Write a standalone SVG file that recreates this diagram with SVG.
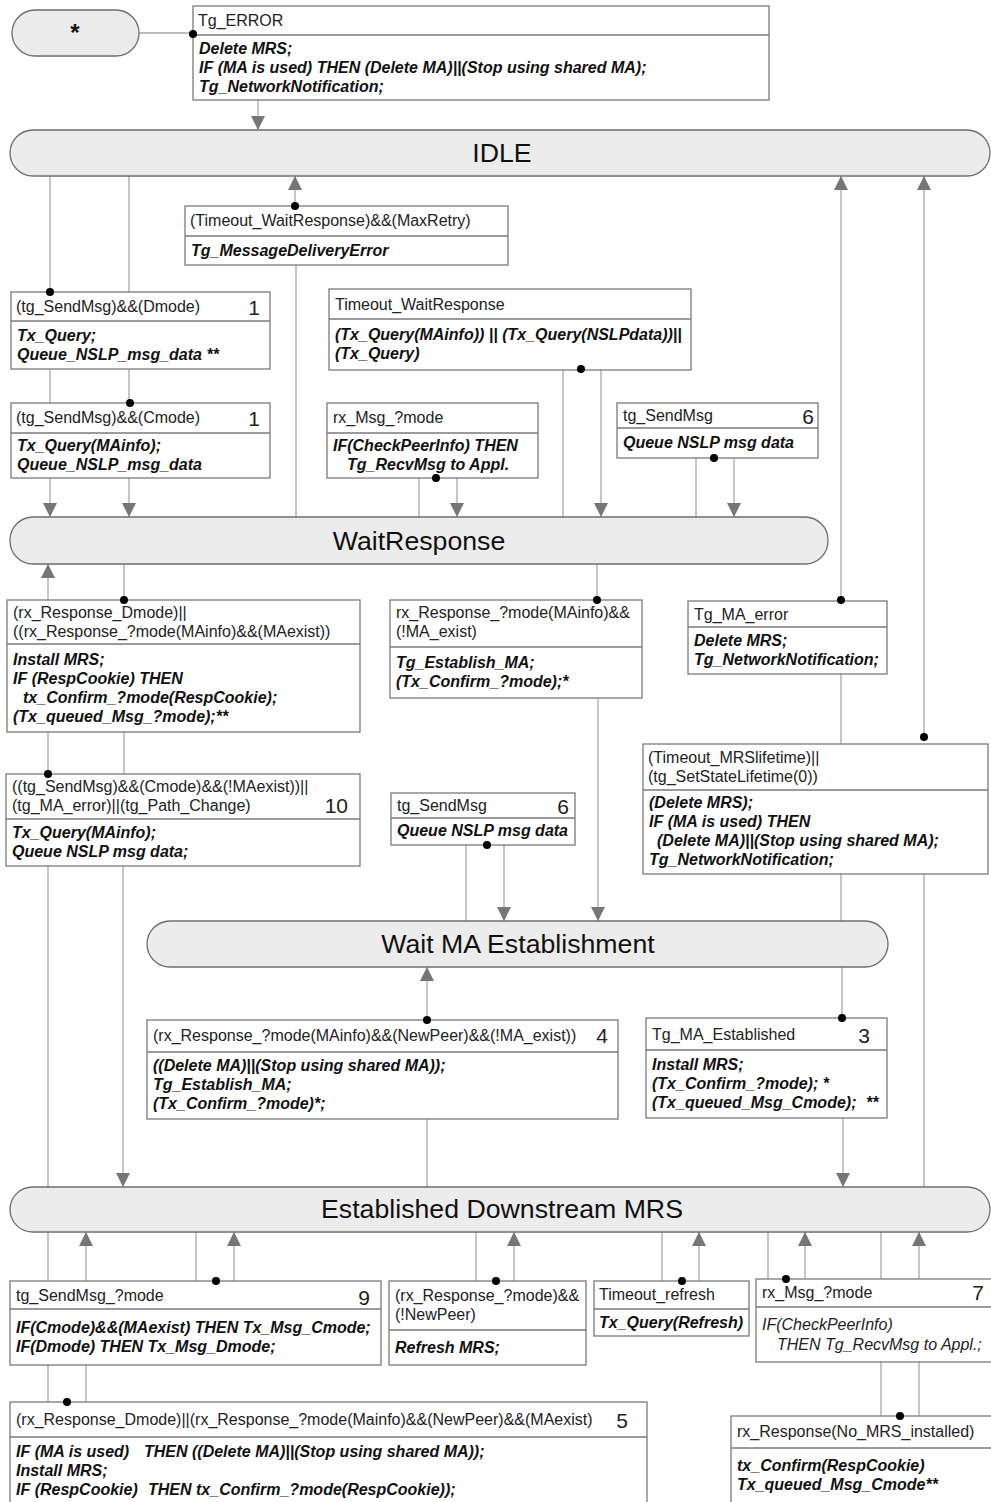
<svg xmlns="http://www.w3.org/2000/svg" width="991" height="1502" viewBox="0 0 991 1502">
<style>
.box{fill:#fff;stroke:#7a7a7a;stroke-width:1.3}
.dv{stroke:#7a7a7a;stroke-width:1.3}
.pill{fill:#ececec;stroke:#6e6e6e;stroke-width:1.3}
.c{stroke:#a8a8a8;stroke-width:1.3;fill:none}
.h{font-family:"Liberation Sans",Arial,sans-serif;font-size:16px;fill:#222}
.b{font-family:"Liberation Sans",Arial,sans-serif;font-size:16px;font-style:italic;font-weight:bold;fill:#111}
.i{font-family:"Liberation Sans",Arial,sans-serif;font-size:16px;font-style:italic;fill:#222}
.n{font-family:"Liberation Sans",Arial,sans-serif;font-size:21px;fill:#222;text-anchor:end}
.p{font-family:"Liberation Sans",Arial,sans-serif;font-size:26.7px;fill:#111;text-anchor:middle}
.dot{fill:#000}
</style>
<defs>
<marker id="ah" viewBox="0 0 14 14" refX="14" refY="7" markerWidth="14" markerHeight="14" markerUnits="userSpaceOnUse" orient="auto"><path d="M0,0 L14,7 L0,14 z" fill="#767676"/></marker>
</defs>

<g id="connectors">
<line class="c" x1="139" y1="33" x2="193" y2="33"/>
<line class="c" x1="258" y1="100" x2="258" y2="130" marker-end="url(#ah)"/>
<line class="c" x1="50" y1="176" x2="50" y2="292"/>
<line class="c" x1="129" y1="176" x2="129" y2="292"/>
<line class="c" x1="295" y1="206" x2="295" y2="176" marker-end="url(#ah)"/>
<line class="c" x1="296" y1="265" x2="296" y2="517"/>
<line class="c" x1="50" y1="369" x2="50" y2="403"/>
<line class="c" x1="129" y1="369" x2="129" y2="403"/>
<line class="c" x1="50" y1="478" x2="50" y2="517" marker-end="url(#ah)"/>
<line class="c" x1="129" y1="478" x2="129" y2="517" marker-end="url(#ah)"/>
<line class="c" x1="563" y1="370" x2="563" y2="517"/>
<line class="c" x1="601" y1="370" x2="601" y2="517" marker-end="url(#ah)"/>
<line class="c" x1="419" y1="478" x2="419" y2="517"/>
<line class="c" x1="457" y1="478" x2="457" y2="517" marker-end="url(#ah)"/>
<line class="c" x1="696" y1="458" x2="696" y2="517"/>
<line class="c" x1="734" y1="458" x2="734" y2="517" marker-end="url(#ah)"/>
<line class="c" x1="841" y1="600" x2="841" y2="176" marker-end="url(#ah)"/>
<line class="c" x1="924" y1="737" x2="924" y2="176" marker-end="url(#ah)"/>
<line class="c" x1="48" y1="600" x2="48" y2="564" marker-end="url(#ah)"/>
<line class="c" x1="124" y1="564" x2="124" y2="600"/>
<line class="c" x1="597" y1="564" x2="597" y2="600"/>
<line class="c" x1="48" y1="732" x2="48" y2="774"/>
<line class="c" x1="124" y1="732" x2="124" y2="774"/>
<line class="c" x1="48" y1="866" x2="48" y2="1187"/>
<line class="c" x1="123" y1="866" x2="123" y2="1187" marker-end="url(#ah)"/>
<line class="c" x1="598" y1="698" x2="598" y2="921" marker-end="url(#ah)"/>
<line class="c" x1="841" y1="674" x2="841" y2="744"/>
<line class="c" x1="841" y1="874" x2="841" y2="921"/>
<line class="c" x1="924" y1="874" x2="924" y2="1187"/>
<line class="c" x1="466" y1="845" x2="466" y2="921"/>
<line class="c" x1="504" y1="845" x2="504" y2="921" marker-end="url(#ah)"/>
<line class="c" x1="427" y1="1020" x2="427" y2="967" marker-end="url(#ah)"/>
<line class="c" x1="427" y1="1119" x2="427" y2="1187"/>
<line class="c" x1="842" y1="967" x2="842" y2="1018"/>
<line class="c" x1="843" y1="1118" x2="843" y2="1187" marker-end="url(#ah)"/>
<line class="c" x1="48" y1="1232" x2="48" y2="1281"/>
<line class="c" x1="86" y1="1281" x2="86" y2="1232" marker-end="url(#ah)"/>
<line class="c" x1="196" y1="1232" x2="196" y2="1281"/>
<line class="c" x1="234" y1="1281" x2="234" y2="1232" marker-end="url(#ah)"/>
<line class="c" x1="48" y1="1365" x2="48" y2="1402"/>
<line class="c" x1="86" y1="1365" x2="86" y2="1402"/>
<line class="c" x1="476" y1="1232" x2="476" y2="1281"/>
<line class="c" x1="514" y1="1281" x2="514" y2="1232" marker-end="url(#ah)"/>
<line class="c" x1="662" y1="1232" x2="662" y2="1281"/>
<line class="c" x1="699" y1="1281" x2="699" y2="1232" marker-end="url(#ah)"/>
<line class="c" x1="768" y1="1232" x2="768" y2="1279"/>
<line class="c" x1="805" y1="1279" x2="805" y2="1232" marker-end="url(#ah)"/>
<line class="c" x1="881" y1="1232" x2="881" y2="1279"/>
<line class="c" x1="919" y1="1279" x2="919" y2="1232" marker-end="url(#ah)"/>
<line class="c" x1="881" y1="1362" x2="881" y2="1416"/>
<line class="c" x1="919" y1="1362" x2="919" y2="1416"/>
</g>

<g id="start">
<rect class="pill" x="12" y="10" width="127" height="46" rx="23"/>
<text class="p" x="75" y="41" style="font-size:24px;font-weight:bold">*</text>
</g>

<g id="idle">
<rect class="pill" x="10" y="130" width="980" height="46" rx="23"/>
<text class="p" x="502" y="162">IDLE</text>
</g>

<g id="waitresponse">
<rect class="pill" x="10" y="517" width="818" height="47" rx="23"/>
<text class="p" x="419" y="550">WaitResponse</text>
</g>

<g id="waitma">
<rect class="pill" x="147" y="921" width="741" height="46" rx="23"/>
<text class="p" x="518" y="953">Wait MA Establishment</text>
</g>

<g id="established">
<rect class="pill" x="10" y="1187" width="980" height="45" rx="22.5"/>
<text class="p" x="502" y="1218">Established Downstream MRS</text>
</g>

<g id="t-error">
<rect class="box" x="193" y="6" width="576" height="94"/>
<line class="dv" x1="193" y1="35" x2="769" y2="35"/>
<text class="h" x="198" y="26">Tg_ERROR</text>
<text class="b" x="199" y="54">Delete MRS;</text>
<text class="b" x="199" y="73">IF (MA is used) THEN (Delete MA)||(Stop using shared MA);</text>
<text class="b" x="199" y="92">Tg_NetworkNotification;</text>
</g>

<g id="t-maxretry">
<rect class="box" x="185" y="206" width="323" height="59"/>
<line class="dv" x1="185" y1="236" x2="508" y2="236"/>
<text class="h" x="190" y="226">(Timeout_WaitResponse)&amp;&amp;(MaxRetry)</text>
<text class="b" x="191" y="256">Tg_MessageDeliveryError</text>
</g>

<g id="t-dmode">
<rect class="box" x="11" y="292" width="259" height="77"/>
<line class="dv" x1="11" y1="321" x2="270" y2="321"/>
<text class="h" x="16" y="312">(tg_SendMsg)&amp;&amp;(Dmode)</text>
<text class="n" x="260" y="315">1</text>
<text class="b" x="17" y="341">Tx_Query;</text>
<text class="b" x="17" y="360">Queue_NSLP_msg_data **</text>
</g>

<g id="t-cmode">
<rect class="box" x="11" y="403" width="259" height="75"/>
<line class="dv" x1="11" y1="433" x2="270" y2="433"/>
<text class="h" x="16" y="423">(tg_SendMsg)&amp;&amp;(Cmode)</text>
<text class="n" x="260" y="426">1</text>
<text class="b" x="17" y="451">Tx_Query(MAinfo);</text>
<text class="b" x="17" y="470">Queue_NSLP_msg_data</text>
</g>

<g id="t-timeoutwr">
<rect class="box" x="329" y="289" width="362" height="81"/>
<line class="dv" x1="329" y1="319" x2="691" y2="319"/>
<text class="h" x="335" y="310">Timeout_WaitResponse</text>
<text class="b" x="335" y="340">(Tx_Query(MAinfo)) || (Tx_Query(NSLPdata))||</text>
<text class="b" x="335" y="359">(Tx_Query)</text>
</g>

<g id="t-rxmsg1">
<rect class="box" x="327" y="403" width="211" height="75"/>
<line class="dv" x1="327" y1="433" x2="538" y2="433"/>
<text class="h" x="333" y="423">rx_Msg_?mode</text>
<text class="b" x="333" y="451">IF(CheckPeerInfo) THEN</text>
<text class="b" x="347" y="470">Tg_RecvMsg to Appl.</text>
</g>

<g id="t-sendmsg6a">
<rect class="box" x="617" y="403" width="201" height="55"/>
<line class="dv" x1="617" y1="428" x2="818" y2="428"/>
<text class="h" x="623" y="421">tg_SendMsg</text>
<text class="n" x="814" y="424">6</text>
<text class="b" x="623" y="448">Queue NSLP msg data</text>
</g>

<g id="t-rxdmode">
<rect class="box" x="7" y="600" width="353" height="132"/>
<line class="dv" x1="7" y1="644" x2="360" y2="644"/>
<text class="h" x="13" y="618">(rx_Response_Dmode)||</text>
<text class="h" x="13" y="637">((rx_Response_?mode(MAinfo)&amp;&amp;(MAexist))</text>
<text class="b" x="13" y="665">Install MRS;</text>
<text class="b" x="13" y="684">IF (RespCookie) THEN</text>
<text class="b" x="23" y="703">tx_Confirm_?mode(RespCookie);</text>
<text class="b" x="13" y="722">(Tx_queued_Msg_?mode);**</text>
</g>

<g id="t-rxmainfo">
<rect class="box" x="390" y="600" width="252" height="98"/>
<line class="dv" x1="390" y1="647" x2="642" y2="647"/>
<text class="h" x="396" y="618">rx_Response_?mode(MAinfo)&amp;&amp;</text>
<text class="h" x="396" y="637">(!MA_exist)</text>
<text class="b" x="396" y="668">Tg_Establish_MA;</text>
<text class="b" x="396" y="687">(Tx_Confirm_?mode);*</text>
</g>

<g id="t-maerror">
<rect class="box" x="688" y="601" width="199" height="73"/>
<line class="dv" x1="688" y1="627" x2="887" y2="627"/>
<text class="h" x="694" y="620">Tg_MA_error</text>
<text class="b" x="694" y="646">Delete MRS;</text>
<text class="b" x="694" y="665">Tg_NetworkNotification;</text>
</g>

<g id="t-cmode10">
<rect class="box" x="6" y="774" width="354" height="92"/>
<line class="dv" x1="6" y1="819" x2="360" y2="819"/>
<text class="h" x="12" y="792">((tg_SendMsg)&amp;&amp;(Cmode)&amp;&amp;(!MAexist))||</text>
<text class="h" x="12" y="811">(tg_MA_error)||(tg_Path_Change)</text>
<text class="n" x="348" y="813">10</text>
<text class="b" x="12" y="838">Tx_Query(MAinfo);</text>
<text class="b" x="12" y="857">Queue NSLP msg data;</text>
</g>

<g id="t-sendmsg6b">
<rect class="box" x="391" y="793" width="184" height="52"/>
<line class="dv" x1="391" y1="818" x2="575" y2="818"/>
<text class="h" x="397" y="811">tg_SendMsg</text>
<text class="n" x="569" y="814">6</text>
<text class="b" x="397" y="836">Queue NSLP msg data</text>
</g>

<g id="t-mrslifetime">
<rect class="box" x="643" y="744" width="345" height="130"/>
<line class="dv" x1="643" y1="790" x2="988" y2="790"/>
<text class="h" x="648" y="763">(Timeout_MRSlifetime)||</text>
<text class="h" x="648" y="782">(tg_SetStateLifetime(0))</text>
<text class="b" x="649" y="808">(Delete MRS);</text>
<text class="b" x="649" y="827">IF (MA is used) THEN</text>
<text class="b" x="657" y="846">(Delete MA)||(Stop using shared MA);</text>
<text class="b" x="649" y="865">Tg_NetworkNotification;</text>
</g>

<g id="t-newpeer4">
<rect class="box" x="147" y="1020" width="471" height="99"/>
<line class="dv" x1="147" y1="1052" x2="618" y2="1052"/>
<text class="h" x="153" y="1041">(rx_Response_?mode(MAinfo)&amp;&amp;(NewPeer)&amp;&amp;(!MA_exist))</text>
<text class="n" x="608" y="1043">4</text>
<text class="b" x="153" y="1071">((Delete MA)||(Stop using shared MA));</text>
<text class="b" x="153" y="1090">Tg_Establish_MA;</text>
<text class="b" x="153" y="1109">(Tx_Confirm_?mode)*;</text>
</g>

<g id="t-maestablished3">
<rect class="box" x="646" y="1018" width="241" height="100"/>
<line class="dv" x1="646" y1="1050" x2="887" y2="1050"/>
<text class="h" x="652" y="1040">Tg_MA_Established</text>
<text class="n" x="870" y="1043">3</text>
<text class="b" x="652" y="1070">Install MRS;</text>
<text class="b" x="652" y="1089">(Tx_Confirm_?mode); *</text>
<text class="b" x="652" y="1108">(Tx_queued_Msg_Cmode);<tspan x="866">**</tspan></text>
</g>

<g id="t-sendmsg9">
<rect class="box" x="10" y="1281" width="371" height="84"/>
<line class="dv" x1="10" y1="1309" x2="381" y2="1309"/>
<text class="h" x="16" y="1301">tg_SendMsg_?mode</text>
<text class="n" x="370" y="1305">9</text>
<text class="b" x="16" y="1333">IF(Cmode)&amp;&amp;(MAexist) THEN Tx_Msg_Cmode;</text>
<text class="b" x="16" y="1352">IF(Dmode) THEN Tx_Msg_Dmode;</text>
</g>

<g id="t-refresh">
<rect class="box" x="389" y="1281" width="197" height="84"/>
<line class="dv" x1="389" y1="1330" x2="586" y2="1330"/>
<text class="h" x="395" y="1301">(rx_Response_?mode)&amp;&amp;</text>
<text class="h" x="395" y="1320">(!NewPeer)</text>
<text class="b" x="395" y="1353">Refresh MRS;</text>
</g>

<g id="t-timeoutrefresh">
<rect class="box" x="594" y="1281" width="155" height="55"/>
<line class="dv" x1="594" y1="1309" x2="749" y2="1309"/>
<text class="h" x="599" y="1300">Timeout_refresh</text>
<text class="b" x="599" y="1328">Tx_Query(Refresh)</text>
</g>

<g id="t-rxmsg7">
<rect class="box" x="756" y="1279" width="236" height="83"/>
<line class="dv" x1="756" y1="1307" x2="992" y2="1307"/>
<text class="h" x="762" y="1298">rx_Msg_?mode</text>
<text class="n" x="984" y="1300">7</text>
<text class="i" x="762" y="1330">IF(CheckPeerInfo)</text>
<text class="i" x="777" y="1350">THEN Tg_RecvMsg to Appl.;</text>
</g>

<g id="t-rxdmode5">
<rect class="box" x="10" y="1402" width="637" height="110"/>
<line class="dv" x1="10" y1="1437" x2="647" y2="1437"/>
<text class="h" x="16" y="1425">(rx_Response_Dmode)||(rx_Response_?mode(Mainfo)&amp;&amp;(NewPeer)&amp;&amp;(MAexist)</text>
<text class="n" x="628" y="1428">5</text>
<text class="b" x="16" y="1457">IF (MA is used)<tspan x="144">THEN ((Delete MA)||(Stop using shared MA));</tspan></text>
<text class="b" x="16" y="1476">Install MRS;</text>
<text class="b" x="16" y="1495">IF (RespCookie)<tspan x="148">THEN tx_Confirm_?mode(RespCookie));</tspan></text>
</g>

<g id="t-nomrs">
<rect class="box" x="731" y="1416" width="262" height="96"/>
<line class="dv" x1="731" y1="1448" x2="993" y2="1448"/>
<text class="h" x="737" y="1437">rx_Response(No_MRS_installed)</text>
<text class="b" x="737" y="1471">tx_Confirm(RespCookie)</text>
<text class="b" x="737" y="1490">Tx_queued_Msg_Cmode**</text>
</g>

<g id="dots">
<circle class="dot" cx="193" cy="34" r="4"/>
<circle class="dot" cx="295" cy="206" r="4"/>
<circle class="dot" cx="50" cy="292" r="4"/>
<circle class="dot" cx="130" cy="403" r="4"/>
<circle class="dot" cx="581" cy="369" r="4"/>
<circle class="dot" cx="436" cy="478" r="4"/>
<circle class="dot" cx="714" cy="458" r="4"/>
<circle class="dot" cx="124" cy="600" r="4"/>
<circle class="dot" cx="597" cy="600" r="4"/>
<circle class="dot" cx="841" cy="600" r="4"/>
<circle class="dot" cx="924" cy="737" r="4"/>
<circle class="dot" cx="48" cy="774" r="4"/>
<circle class="dot" cx="487" cy="845" r="4"/>
<circle class="dot" cx="427" cy="1020" r="4"/>
<circle class="dot" cx="842" cy="1018" r="4"/>
<circle class="dot" cx="216" cy="1281" r="4"/>
<circle class="dot" cx="496" cy="1281" r="4"/>
<circle class="dot" cx="682" cy="1281" r="4"/>
<circle class="dot" cx="786" cy="1279" r="4"/>
<circle class="dot" cx="67" cy="1402" r="4"/>
<circle class="dot" cx="900" cy="1416" r="4"/>
</g>
</svg>
